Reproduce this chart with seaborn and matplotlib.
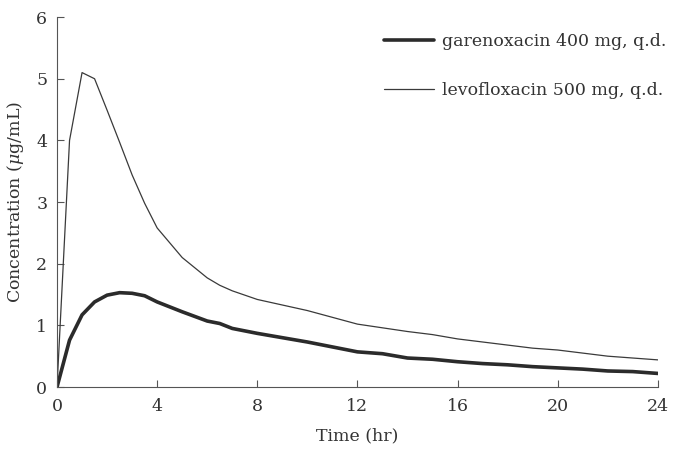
import matplotlib
matplotlib.use("Agg")
import matplotlib.pyplot as plt
import seaborn as sns
import pandas as pd

# time points (hr)
time_h = [0, 0.5, 1, 1.5, 2, 2.5, 3, 3.5, 4, 5, 6, 6.5, 7, 8, 9, 10, 11, 12,
          13, 14, 15, 16, 17, 18, 19, 20, 21, 22, 23, 24]

# garenoxacin 400 mg q.d. (ug/mL)
gare = [0, 0.76, 1.17, 1.38, 1.49, 1.53, 1.52, 1.48, 1.38, 1.22, 1.07, 1.03, 0.95,
        0.87, 0.80, 0.73, 0.65, 0.57, 0.54, 0.47, 0.45, 0.41, 0.38, 0.36, 0.33,
        0.31, 0.29, 0.26, 0.25, 0.22]

# levofloxacin 500 mg q.d. (ug/mL)
levo = [0, 4.0, 5.1, 5.0, 4.49, 3.97, 3.44, 2.98, 2.58, 2.1, 1.77, 1.65, 1.56,
        1.42, 1.33, 1.24, 1.13, 1.02, 0.96, 0.9, 0.85, 0.78, 0.73, 0.68, 0.63,
        0.6, 0.55, 0.5, 0.47, 0.44]

labels = ["garenoxacin 400 mg, q.d.", "levofloxacin 500 mg, q.d."]

sns.set_style("ticks")
plt.rcParams["font.family"] = ["DejaVu Serif"]
plt.rcParams["mathtext.fontset"] = "dejavuserif"

fs = 12.5
fig = plt.figure(figsize=(6.74, 4.5), dpi=100)
ax = fig.add_axes([0.0846, 0.14, 0.8914, 0.822])

df_g = pd.DataFrame({"t": time_h, "c": gare})
df_l = pd.DataFrame({"t": time_h, "c": levo})
sns.lineplot(data=df_g, x="t", y="c", ax=ax, color="#2b2b2b", linewidth=2.6, label=labels[0])
sns.lineplot(data=df_l, x="t", y="c", ax=ax, color="#3a3a3a", linewidth=0.9, label=labels[1])

ax.set_xlim(0, 24)
ax.set_ylim(0, 6)
ax.set_xticks([0, 4, 8, 12, 16, 20, 24])
ax.set_yticks(range(0, 7))
ax.set_xlabel("Time (hr)", fontsize=fs, color="#333333", labelpad=9)
ax.set_ylabel(r"Concentration ($\mu$g/mL)", fontsize=fs, color="#333333", labelpad=7)
ax.tick_params(axis="both", direction="in", length=5, labelsize=fs, colors="#555555", labelcolor="#333333")
ax.tick_params(axis="x", pad=8)
ax.tick_params(axis="y", pad=7)
sns.despine(ax=ax)
for s in ["left", "bottom"]:
    ax.spines[s].set_color("#555555")

leg = ax.legend(loc="upper right", bbox_to_anchor=(1.04, 1.0), frameon=False, fontsize=fs,
                handlelength=2.9, labelspacing=1.85, handletextpad=0.45)
for t in leg.get_texts():
    t.set_color("#333333")

fig.savefig("out.png", dpi=100)
